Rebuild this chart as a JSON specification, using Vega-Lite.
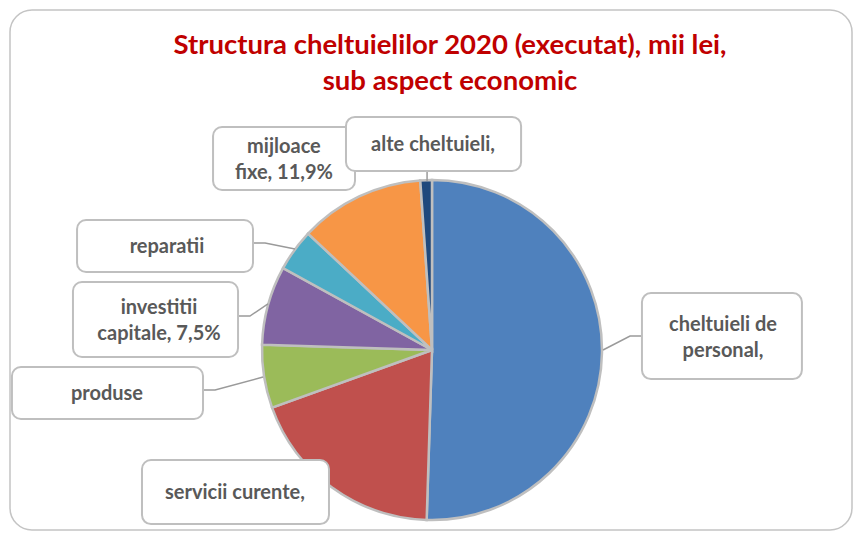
{
  "$schema": "https://vega.github.io/schema/vega-lite/v6.json",
  "width": 842,
  "height": 520,
  "autosize": {"type": "none"},
  "padding": {"left": 10, "top": 10, "right": 4, "bottom": 3},
  "background": "white",
  "view": {"stroke": "#c4c4c4", "strokeWidth": 1.5, "cornerRadius": 22, "fill": "white"},
  "title": {
    "text": ["Structura cheltuielilor 2020 (executat), mii lei,", "sub aspect economic"],
    "font": "Lato",
    "fontSize": 27.5,
    "fontWeight": "bold",
    "color": "#C00000",
    "anchor": "middle",
    "frame": "group",
    "lineHeight": 36,
    "baseline": "alphabetic",
    "offset": -107,
    "dx": 19
  },
  "layer": [
    {
      "data": {"values": [
        {"cat": "cheltuieli de personal", "pct": 50.5, "idx": 1},
        {"cat": "servicii curente", "pct": 19.0, "idx": 2},
        {"cat": "produse", "pct": 6.0, "idx": 3},
        {"cat": "investitii capitale", "pct": 7.5, "idx": 4},
        {"cat": "reparatii", "pct": 4.0, "idx": 5},
        {"cat": "mijloace fixe", "pct": 11.9, "idx": 6},
        {"cat": "alte cheltuieli", "pct": 1.1, "idx": 7}
      ]},
      "mark": {"type": "arc", "outerRadius": 170, "stroke": "#bfbfbf", "strokeWidth": 2.5},
      "encoding": {
        "theta": {"field": "pct", "type": "quantitative", "stack": true},
        "order": {"field": "idx", "type": "quantitative"},
        "color": {
          "field": "cat", "type": "nominal", "legend": null,
          "scale": {
            "domain": ["cheltuieli de personal", "servicii curente", "produse", "investitii capitale", "reparatii", "mijloace fixe", "alte cheltuieli"],
            "range": ["#4F81BD", "#C0504D", "#9BBB59", "#8064A2", "#4BACC6", "#F79646", "#1F497D"]
          }
        },
        "x": {"datum": 0, "type": "quantitative", "axis": null, "scale": {"domain": [-2.4824, 2.4706], "nice": false, "zero": false}},
        "y": {"datum": 0, "type": "quantitative", "axis": null, "scale": {"domain": [-1.0588, 2.0], "nice": false, "zero": false}}
      }
    },
    {
      "data": {"values": [
        {"lab": "personal", "pt": 1, "lx": 1.006, "ly": 0.0},
        {"lab": "personal", "pt": 2, "lx": 1.165, "ly": 0.082},
        {"lab": "personal", "pt": 3, "lx": 1.235, "ly": 0.082},
        {"lab": "reparatii", "pt": 1, "lx": -1.053, "ly": 0.629},
        {"lab": "reparatii", "pt": 2, "lx": -0.982, "ly": 0.629},
        {"lab": "reparatii", "pt": 3, "lx": -0.806, "ly": 0.594},
        {"lab": "investitii", "pt": 1, "lx": -1.141, "ly": 0.2},
        {"lab": "investitii", "pt": 2, "lx": -1.071, "ly": 0.2},
        {"lab": "investitii", "pt": 3, "lx": -0.965, "ly": 0.271},
        {"lab": "produse", "pt": 1, "lx": -1.347, "ly": -0.235},
        {"lab": "produse", "pt": 2, "lx": -1.276, "ly": -0.235},
        {"lab": "produse", "pt": 3, "lx": -0.994, "ly": -0.159},
        {"lab": "alte", "pt": 1, "lx": -0.029, "ly": 1.053},
        {"lab": "alte", "pt": 2, "lx": -0.029, "ly": 0.994}
      ]},
      "mark": {"type": "line", "color": "#9a9a9a", "strokeWidth": 1.5},
      "encoding": {
        "x": {"field": "lx", "type": "quantitative", "axis": null, "scale": {"domain": [-2.4824, 2.4706], "nice": false, "zero": false}},
        "y": {"field": "ly", "type": "quantitative", "axis": null, "scale": {"domain": [-1.0588, 2.0], "nice": false, "zero": false}},
        "detail": {"field": "lab", "type": "nominal"},
        "order": {"field": "pt", "type": "quantitative"}
      }
    },
    {
      "data": {"values": [
        {"lab": "mijloace fixe", "bx": -1.288, "bx2": -0.453, "by": 1.312, "by2": 0.941},
        {"lab": "alte cheltuieli", "bx": -0.506, "bx2": 0.524, "by": 1.371, "by2": 1.053},
        {"lab": "reparatii", "bx": -2.088, "bx2": -1.053, "by": 0.765, "by2": 0.459},
        {"lab": "investitii capitale", "bx": -2.112, "bx2": -1.141, "by": 0.4, "by2": -0.041},
        {"lab": "produse", "bx": -2.471, "bx2": -1.347, "by": -0.1, "by2": -0.406},
        {"lab": "servicii curente", "bx": -1.706, "bx2": -0.606, "by": -0.647, "by2": -1.024},
        {"lab": "cheltuieli de personal", "bx": 1.235, "bx2": 2.176, "by": 0.335, "by2": -0.171}
      ]},
      "mark": {"type": "rect", "fill": "white", "stroke": "#bfbfbf", "strokeWidth": 2, "cornerRadius": 9},
      "encoding": {
        "x": {"field": "bx", "type": "quantitative", "axis": null, "scale": {"domain": [-2.4824, 2.4706], "nice": false, "zero": false}},
        "x2": {"field": "bx2"},
        "y": {"field": "by", "type": "quantitative", "axis": null, "scale": {"domain": [-1.0588, 2.0], "nice": false, "zero": false}},
        "y2": {"field": "by2"}
      }
    },
    {
      "data": {"values": [
        {"txt": "mijloace\nfixe, 11,9%", "tx": -0.871, "ty": 1.194},
        {"txt": "alte cheltuieli,", "tx": 0.006, "ty": 1.206},
        {"txt": "reparatii", "tx": -1.559, "ty": 0.606},
        {"txt": "investitii\ncapitale, 7,5%", "tx": -1.606, "ty": 0.247},
        {"txt": "produse", "tx": -1.912, "ty": -0.259},
        {"txt": "servicii curente,", "tx": -1.159, "ty": -0.841},
        {"txt": "cheltuieli de\npersonal,", "tx": 1.712, "ty": 0.147}
      ]},
      "mark": {"type": "text", "font": "Lato", "fontSize": 20, "fontWeight": "bold", "color": "#595959", "lineBreak": "\n", "lineHeight": 26, "align": "center", "baseline": "middle"},
      "encoding": {
        "x": {"field": "tx", "type": "quantitative", "axis": null, "scale": {"domain": [-2.4824, 2.4706], "nice": false, "zero": false}},
        "y": {"field": "ty", "type": "quantitative", "axis": null, "scale": {"domain": [-1.0588, 2.0], "nice": false, "zero": false}},
        "text": {"field": "txt", "type": "nominal"}
      }
    }
  ]
}
